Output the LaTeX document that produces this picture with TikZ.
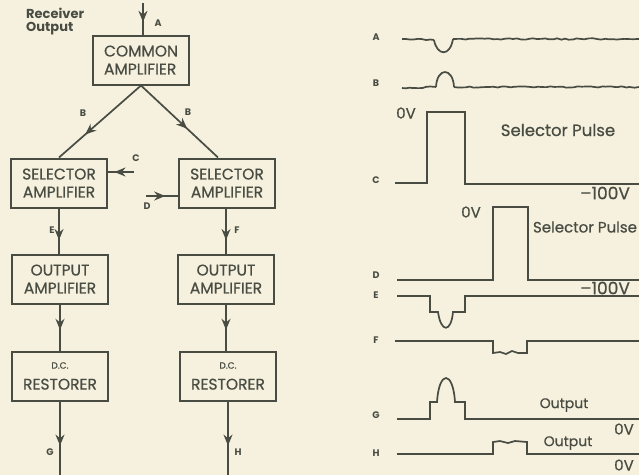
\documentclass[tikz,border=0pt]{standalone}
\usepackage{fontspec}
\setmainfont{Poppins}
\newfontfamily\inkfont{Poppins}[FakeBold=0.6]
\usetikzlibrary{arrows.meta,positioning,calc,decorations.markings,decorations.pathmorphing}
\definecolor{paper}{RGB}{246,241,222}
\definecolor{ink}{RGB}{72,76,66}

\tikzset{
  block/.style={draw=ink, line width=2pt, text=ink, minimum width=96pt,
                minimum height=49pt, inner sep=2pt, align=center,
                font=\inkfont\fontsize{15.5}{18}\selectfont},
  midarrow/.style={postaction={decorate}, decoration={markings,
                mark=at position #1 with {\arrow{Stealth[length=11pt,width=9pt]}}}},
  wire/.style={ink, line width=1.7pt},
  sig/.style={ink, line width=1.7pt},
  noisy/.style={decorate, decoration={random steps, segment length=4pt, amplitude=0.7pt}},
  tag/.style={text=ink, font=\fontsize{9.5}{10}\selectfont\bfseries},
  note/.style={text=ink, font=\inkfont\fontsize{15}{17}\selectfont},
}

\begin{document}
\begin{tikzpicture}[x=1pt, y=-1pt]
  \pgfmathsetseed{7}
  \fill[paper] (0,0) rectangle (639,475);
  \useasboundingbox (0,0) rectangle (639,475);

  % Block chain
  \node[text=ink, font=\fontsize{13}{12.5}\selectfont\bfseries, align=left, anchor=north west,
        inner sep=0pt] (recv) at (26,8) {Receiver\\Output};
  \node[block, align=left] (common) at (141,60) {COMMON\\AMPLIFIER};
  \node[block] (selL) at (59,183) {SELECTOR\\AMPLIFIER};
  \node[block] (selR) at (227,183) {SELECTOR\\AMPLIFIER};
  \node[block] (outL) at (60,279) {OUTPUT\\AMPLIFIER};
  \node[block] (outR) at (226,279) {OUTPUT\\AMPLIFIER};
  \node[block] (dcL) at (60,376) {{\fontsize{9}{10}\selectfont D.C.}\\[3pt]RESTORER};
  \node[block] (dcR) at (228,376) {{\fontsize{9}{10}\selectfont D.C.}\\[3pt]RESTORER};

  \coordinate (inA) at (143,3);
  \coordinate (inC) at (134,172);
  \coordinate (inD) at (146,196);
  \coordinate (endG) at (60,475);
  \coordinate (endH) at (228,475);

  % Connectors
  \draw[wire, midarrow=0.6] (inA) -- (inA |- common.north);
  \draw[wire, midarrow=0.68] (common.south) -- (selL.north);
  \draw[wire, midarrow=0.6] (common.south) -- ($(selR.north)+(-9,0)$);
  \draw[wire, midarrow=0.75] (inC) -- (inC -| selL.east);
  \draw[wire, midarrow=0.6] (inD) -- (inD -| selR.west);
  \draw[wire, midarrow=0.7] (selL.south) -- (selL.south |- outL.north);
  \draw[wire, midarrow=0.7] (selR.south -| outR.north) -- (outR.north);
  \draw[wire, midarrow=0.55] (outL.south) -- (outL.south |- dcL.north);
  \draw[wire, midarrow=0.55] (outR.south) -- (outR.south |- dcR.north);
  \draw[wire, midarrow=0.6] (dcL.south) -- (endG);
  \draw[wire, midarrow=0.6] (dcR.south) -- (endH);

  % Connector labels
  \node[tag] (tA) at (158,23) {A};
  \node[tag] (tB1) at (83,113) {B};
  \node[tag] (tB2) at (188,112) {B};
  \node[tag] (tC) at (136,158) {C};
  \node[tag] (tD) at (147,206) {D};
  \node[tag] (tE) at (52,230) {E};
  \node[tag] (tF) at (237,230) {F};
  \node[tag] (tG) at (50,452) {G};
  \node[tag] (tH) at (238,452) {H};

  % Waveforms
  \foreach \n/\y in {A/37,B/83,C/180,D/275,E/295,F/340,G/415,H/453}
    \node[tag] (w\n) at (376,\y) {\n};

  \draw[sig, noisy] (402,39) -- (434,40);
  \draw[sig] (434,40) .. controls (437,56) and (450,57) .. (453,39);
  \draw[sig, noisy] (453,39) -- (639,39);
  \draw[sig, noisy] (402,88) -- (436,87);
  \draw[sig] (436,87) .. controls (437,67) and (453,67) .. (454,87);
  \draw[sig, noisy] (454,87) -- (639,87);

  \draw[sig] (395,183) -- (427,183) -- (427,112) -- (465,112) -- (465,184) -- (639,184);
  \draw[sig] (397,280) -- (493,280) -- (493,207) -- (528,207) -- (528,280) -- (639,280);

  \draw[sig] (397,296) -- (430,296) -- (430,312) -- (438,312)
    .. controls (441,333) and (451,333) .. (453,312) -- (465,312) -- (465,296) -- (639,296);
  \draw[sig] (395,341) -- (493,341) -- (493,353) -- (500,352) -- (506,354) -- (512,351)
    -- (518,353) -- (527,353) -- (527,341) -- (639,341);
  \draw[sig] (397,419) -- (430,419) -- (430,402) -- (437,402)
    .. controls (439,370) and (453,370) .. (455,402) -- (465,402) -- (465,419) -- (639,419);
  \draw[sig] (397,454) -- (493,454) -- (493,442) -- (500,441) -- (508,443) -- (515,441)
    -- (527,442) -- (527,454) -- (639,454);

  % Waveform notes
  \node[note] (ovC) at (406,113) {0V};
  \node[note, font=\inkfont\fontsize{16.5}{18}\selectfont] (pulseC) at (558,130) {Selector Pulse};
  \node[note, font=\inkfont\fontsize{17}{18}\selectfont] (lowC) at (605,193) {–100V};
  \node[note] (ovD) at (471,212) {0V};
  \node[note] (pulseD) at (585,227) {Selector Pulse};
  \node[note, font=\inkfont\fontsize{17}{18}\selectfont] (lowD) at (605,288) {–100V};
  \node[note, font=\inkfont\fontsize{14}{16}\selectfont] (outG) at (564,405) {Output};
  \node[note] (ovG) at (624,429) {0V};
  \node[note, font=\inkfont\fontsize{14}{16}\selectfont] (outH) at (568,443) {Output};
  \node[note, inner sep=1pt] (ovH) at (624,465) {0V};
\end{tikzpicture}
\end{document}
